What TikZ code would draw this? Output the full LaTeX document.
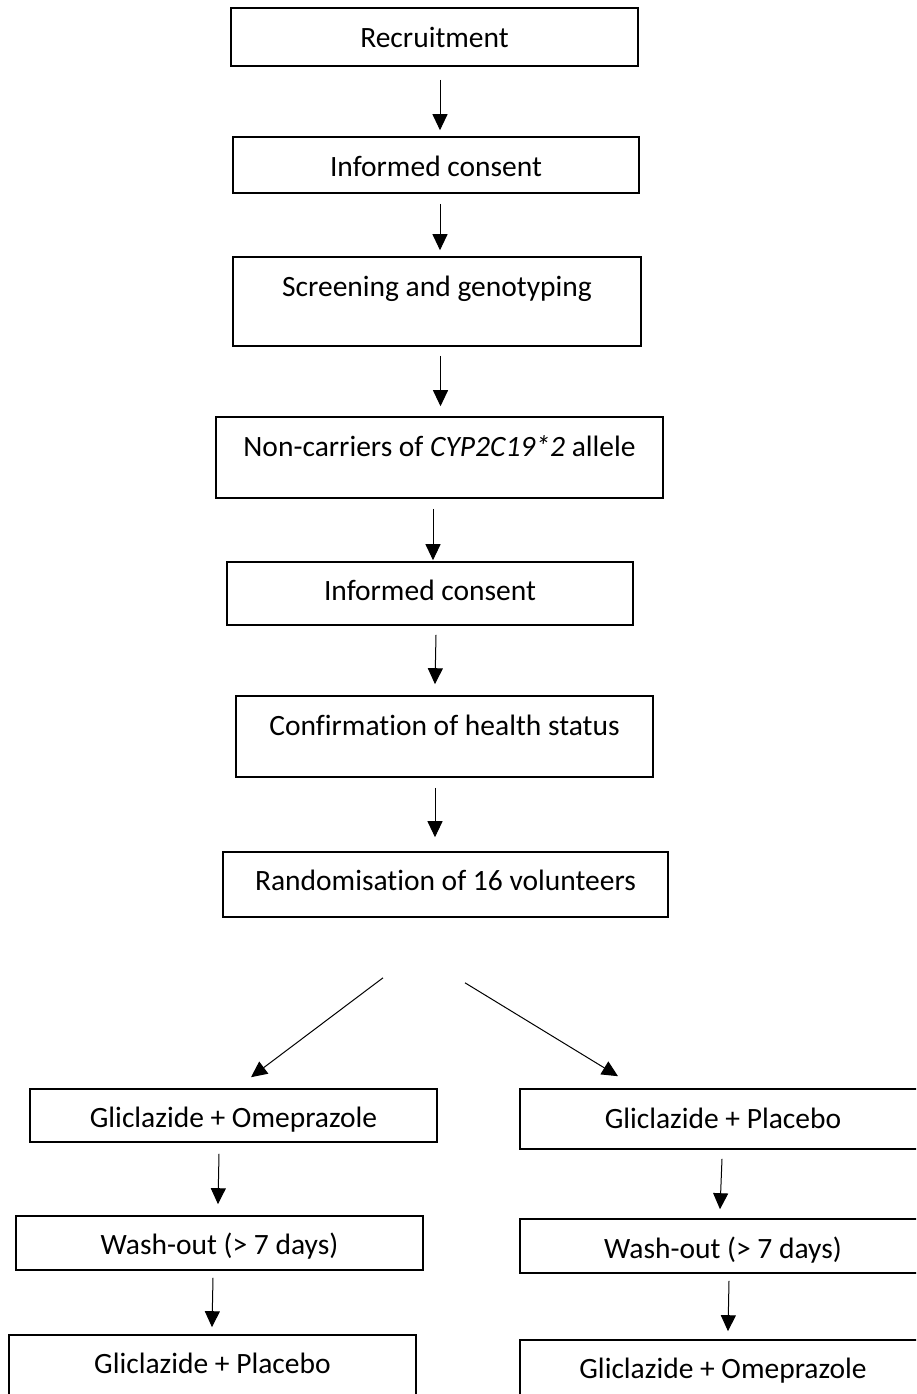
\documentclass[tikz,border=0pt]{standalone}
\usepackage{fontspec}
\setmainfont[Ligatures=NoCommon]{Carlito}
\usetikzlibrary{arrows.meta,calc}
\tikzset{
  box/.style={draw=black, line width=1.6pt, rectangle, inner sep=0pt},
  lbl/.style={inner sep=0pt, anchor=base},
  arr/.style={draw=black, line width=1pt, -{Triangle[width=15pt,length=16pt]}},
}
\begin{document}
\begin{tikzpicture}[x=1pt,y=-1pt,font=\fontsize{29.5}{34}\selectfont]
\useasboundingbox (0,0) rectangle (916,1394);
\fill[white] (0,0) rectangle (916,1394);
\clip (0,0) rectangle (916,1394);
% top column
\node[box, minimum width=407pt, minimum height=58pt] (b1) at (434.5,37) {};
\node[lbl] (t1) at ($(b1.north)+(0,40)$) {Recruitment};
\node[box, minimum width=406pt, minimum height=56pt] (b2) at (436,165) {};
\node[lbl] (t2) at ($(b2.north)+(0,40)$) {Informed consent};
\node[box, minimum width=408pt, minimum height=89pt] (b3) at (437,301.5) {};
\node[lbl] (t3) at ($(b3.north)+(0,40)$) {Screening and genotyping};
\node[box, minimum width=447pt, minimum height=81pt] (b4) at (439.5,457.5) {};
\node[lbl] (t4) at ($(b4.north)+(0,40)$) {Non-carriers of \textit{CYP2C19*2} allele};
\node[box, minimum width=406pt, minimum height=63pt] (b5) at (430,593.5) {};
\node[lbl] (t5) at ($(b5.north)+(0,39)$) {Informed consent};
\node[box, minimum width=417pt, minimum height=81pt] (b6) at (444.5,736.5) {};
\node[lbl] (t6) at ($(b6.north)+(0,40)$) {Confirmation of health status};
\node[box, minimum width=445pt, minimum height=65pt] (b7) at (445.5,884.5) {};
\node[lbl] (t7) at ($(b7.north)+(0,39)$) {Randomisation of 16 volunteers};
% left branch
\node[box, minimum width=407pt, minimum height=53pt] (b8) at (233.5,1115.5) {};
\node[lbl] (t8) at ($(b8.north)+(0,39)$) {Gliclazide + Omeprazole};
\node[box, minimum width=407pt, minimum height=54pt] (b9) at (219.5,1243) {};
\node[lbl] (t9) at ($(b9.north)+(0,39)$) {Wash-out (> 7 days)};
\node[box, minimum width=407pt, minimum height=80pt] (b10) at (212.5,1375) {};
\node[lbl] (t10) at ($(b10.north)+(0,39)$) {Gliclazide + Placebo};
% right branch
\node[box, minimum width=406pt, minimum height=60pt] (b11) at (723,1119) {};
\node[lbl] (t11) at ($(b11.north)+(0,40)$) {Gliclazide + Placebo};
\node[box, minimum width=406pt, minimum height=54pt] (b12) at (723,1246) {};
\node[lbl] (t12) at ($(b12.north)+(0,40)$) {Wash-out (> 7 days)};
\node[box, minimum width=406pt, minimum height=80pt] (b13) at (723,1380) {};
\node[lbl] (t13) at ($(b13.north)+(0,39)$) {Gliclazide + Omeprazole};
% vertical arrows
\draw[arr] ($(b1.south)+(5.5,13)$) -- ($(b2.north)+(4,-6)$);
\draw[arr] ($(b2.south)+(4,10)$) -- ($(b3.north)+(3,-6)$);
\draw[arr] ($(b3.south)+(3.5,9)$) -- ($(b4.north)+(1,-10)$);
\draw[arr] ($(b4.south)+(-6.5,10)$) -- ($(b5.north)+(3,-1)$);
\draw[arr] ($(b5.south)+(6,9)$) -- ($(b6.north)+(-9.5,-11)$);
\draw[arr] ($(b6.south)+(-9.5,10)$) -- ($(b7.north)+(-10.5,-14)$);
\draw[arr] ($(b8.south)+(-14.5,11)$) -- ($(b9.north)+(-1.5,-11)$);
\draw[arr] ($(b9.south)+(-6.5,7)$) -- ($(b10.north)+(-0.5,-7)$);
\draw[arr] ($(b11.south)+(-1,9)$) -- ($(b12.north)+(-3,-9)$);
\draw[arr] ($(b12.south)+(6,7)$) -- ($(b13.north)+(5,-8)$);
% diagonal arrows from randomisation
\coordinate (s1) at ($(b7.south)+(-62.5,60)$);
\coordinate (s2) at ($(b7.south)+(19.5,65)$);
\draw[arr] (s1) -- ($(b8.north)+(17.5,-11)$);
\draw[arr] (s2) -- ($(b11.north)+(-105,-12)$);
\end{tikzpicture}
\end{document}
